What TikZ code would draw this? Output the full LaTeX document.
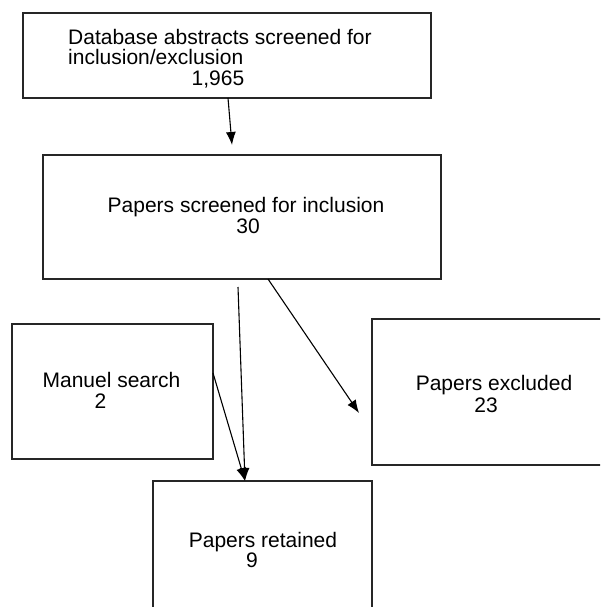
\documentclass[tikz,border=0pt]{standalone}
\usepackage{fontspec}
\setmainfont{Liberation Sans}
\usetikzlibrary{arrows.meta}
\tikzset{
  box/.style={draw=black!85, line width=1.4pt, inner sep=0pt, outer sep=0pt, anchor=north west},
  txt/.style={inner sep=0pt, font=\fontsize{21}{22}\selectfont},
  conn/.style={draw=black, line width=1.1pt, -{Latex[length=13pt,width=10pt]}}
}
\begin{document}
\begin{tikzpicture}[x=1pt,y=-1pt]
\useasboundingbox (0,0) rectangle (600,607);
\clip (0,0) rectangle (600,607);
% boxes
\node[box, minimum width=408pt, minimum height=85pt] (b1) at (23,13) {};
\node[box, minimum width=398pt, minimum height=124pt] (b2) at (43,155) {};
\node[box, minimum width=201pt, minimum height=135pt] (b3) at (12,324) {};
\node[box, minimum width=240pt, minimum height=146pt] (b4) at (372,319) {};
\node[box, minimum width=219pt, minimum height=140pt] (b5) at (153,481) {};
% texts
\node[txt, anchor=base west] (t1a) at (68,45) {Database abstracts screened for};
\node[txt, anchor=base west] (t1b) at (68,65) {inclusion/exclusion};
\node[txt, anchor=base] (t1c) at (218,86) {1,965};
\node[txt, anchor=base] (t2a) at (246,212) {Papers screened for inclusion};
\node[txt, anchor=base] (t2b) at (248,233) {30};
\node[txt, anchor=base] (t3a) at (111.5,387) {Manuel search};
\node[txt, anchor=base] (t3b) at (100.5,408) {2};
\node[txt, anchor=base] (t4a) at (494,390) {Papers excluded};
\node[txt, anchor=base] (t4b) at (486,412) {23};
\node[txt, anchor=base] (t5a) at (263,547) {Papers retained};
\node[txt, anchor=base] (t5b) at (252,567) {9};
% connector ends
\coordinate (c1s) at (228,98);
\coordinate (c1e) at (232,145);
\coordinate (c2s) at (238,287);
\coordinate (c2e) at (245,481);
\coordinate (c3s) at (268,279);
\coordinate (c3e) at (359,413);
\coordinate (c4s) at (213,373);
\coordinate (c4e) at (245,481);
\draw[conn] (c1s) -- (c1e);
\draw[conn] (c2s) -- (c2e);
\draw[conn] (c3s) -- (c3e);
\draw[conn] (c4s) -- (c4e);
\end{tikzpicture}
\end{document}
